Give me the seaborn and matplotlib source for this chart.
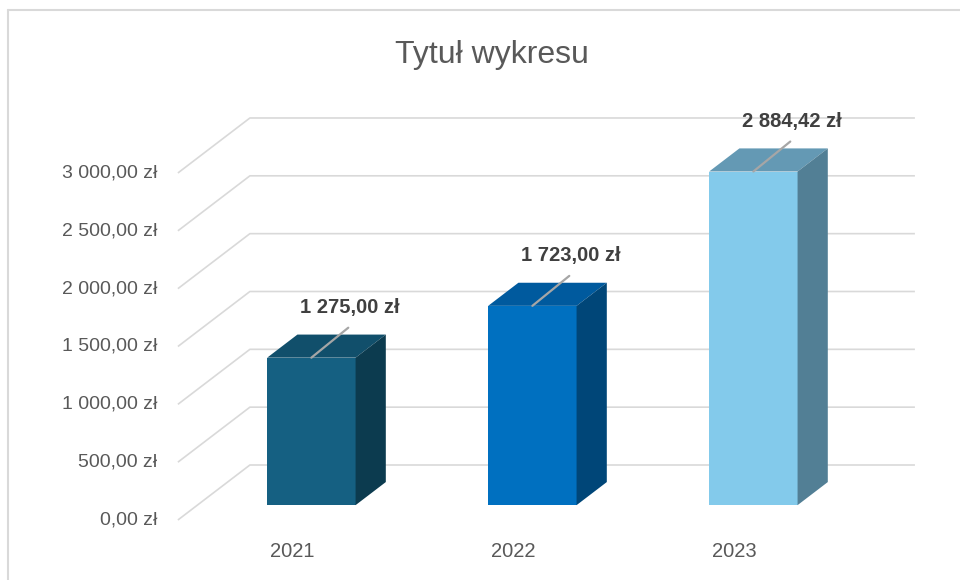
import matplotlib
matplotlib.use("Agg")
import matplotlib.pyplot as plt
import matplotlib.transforms as mtransforms
from matplotlib.patches import Polygon
from matplotlib.lines import Line2D
import seaborn as sns

# dane
years = ["2021", "2022", "2023"]
values = [1275.00, 1723.00, 2884.42]
front_colors = ["#156082", "#0070C0", "#83CAEB"]
top_colors = ["#114F6B", "#005A9E", "#6499B4"]
side_colors = ["#0C3B4F", "#004678", "#527F95"]
ticks = [0, 500, 1000, 1500, 2000, 2500, 3000]
title = "Tytuł wykresu"


def pln(v):
    s = f"{v:,.2f}"
    s = s.replace(",", " ").replace(".", ",")
    return s + " zł"


sns.set_theme(style="white")
plt.rcParams["font.family"] = ["Liberation Sans", "DejaVu Sans"]

fig = plt.figure(figsize=(9.6, 5.8), dpi=100)
ax = fig.add_axes([0, 0, 1, 1])

sns.barplot(x=years, y=values, hue=years, palette=front_colors, width=0.4,
            saturation=1, legend=False, ax=ax, zorder=3)

# uklad "3D" - glebokosc scian i slupkow
ax.set_xlim(-1.321, 3.023)
ax.set_ylim(-518.7, 4495.5)
ax.axis("off")
DX, DY = 0.3258, 475.5      # pelna glebokosc sciany
f0, f1 = 0.27, 0.69         # przod i tyl slupka
XL, XR = -0.516, 2.819

# linie siatki: sciana boczna + tylna
for v in ticks:
    ax.plot([XL, XL + DX, XR], [v, v + DY, v + DY], color="#d9d9d9",
            lw=1.2, zorder=1, solid_capstyle="butt")
    ax.text(XL - 0.095, v, pln(v), ha="right", va="center",
            fontsize=14, color="#595959")

front_tr = mtransforms.Affine2D().translate(f0 * DX, f0 * DY) + ax.transData
ddx, ddy = (f1 - f0) * DX, (f1 - f0) * DY

for i, p in enumerate(ax.patches[:len(values)]):
    p.set_transform(front_tr)
    p.set_edgecolor("none")
    x0, w, h = p.get_x(), p.get_width(), p.get_height()
    x1 = x0 + w
    top = Polygon([(x0, h), (x1, h), (x1 + ddx, h + ddy), (x0 + ddx, h + ddy)],
                  closed=True, facecolor=top_colors[i], edgecolor="none",
                  transform=front_tr, zorder=3)
    side = Polygon([(x1, 0), (x1, h), (x1 + ddx, h + ddy), (x1 + ddx, ddy)],
                   closed=True, facecolor=side_colors[i], edgecolor="none",
                   transform=front_tr, zorder=3)
    ax.add_patch(top)
    ax.add_patch(side)

    # etykieta danych z linia odniesienia
    cx = x0 + w / 2
    ax.plot([cx, cx + 0.167], [h, h + 259], color="#a6a6a6", lw=1.6,
            transform=front_tr, zorder=4)
    ax.text(cx + 0.172, h + 432, pln(values[i]), transform=front_tr,
            ha="center", va="center", fontsize=14.5, fontweight="bold",
            color="#404040", zorder=5)

for i, y in enumerate(years):
    ax.text(i, -275, y, ha="center", va="center", fontsize=14.5,
            color="#595959")

fig.text(492 / 960, 1 - 55 / 580, title, ha="center", va="center",
         fontsize=23, color="#595959")

# ramka obszaru wykresu
fig.add_artist(Line2D([8 / 960, 8 / 960], [0, 1 - 10 / 580],
                      color="#d9d9d9", lw=1.5, transform=fig.transFigure))
fig.add_artist(Line2D([8 / 960, 1], [1 - 10 / 580, 1 - 10 / 580],
                      color="#d9d9d9", lw=1.5, transform=fig.transFigure))

fig.savefig("out.png", dpi=100, facecolor="white")
